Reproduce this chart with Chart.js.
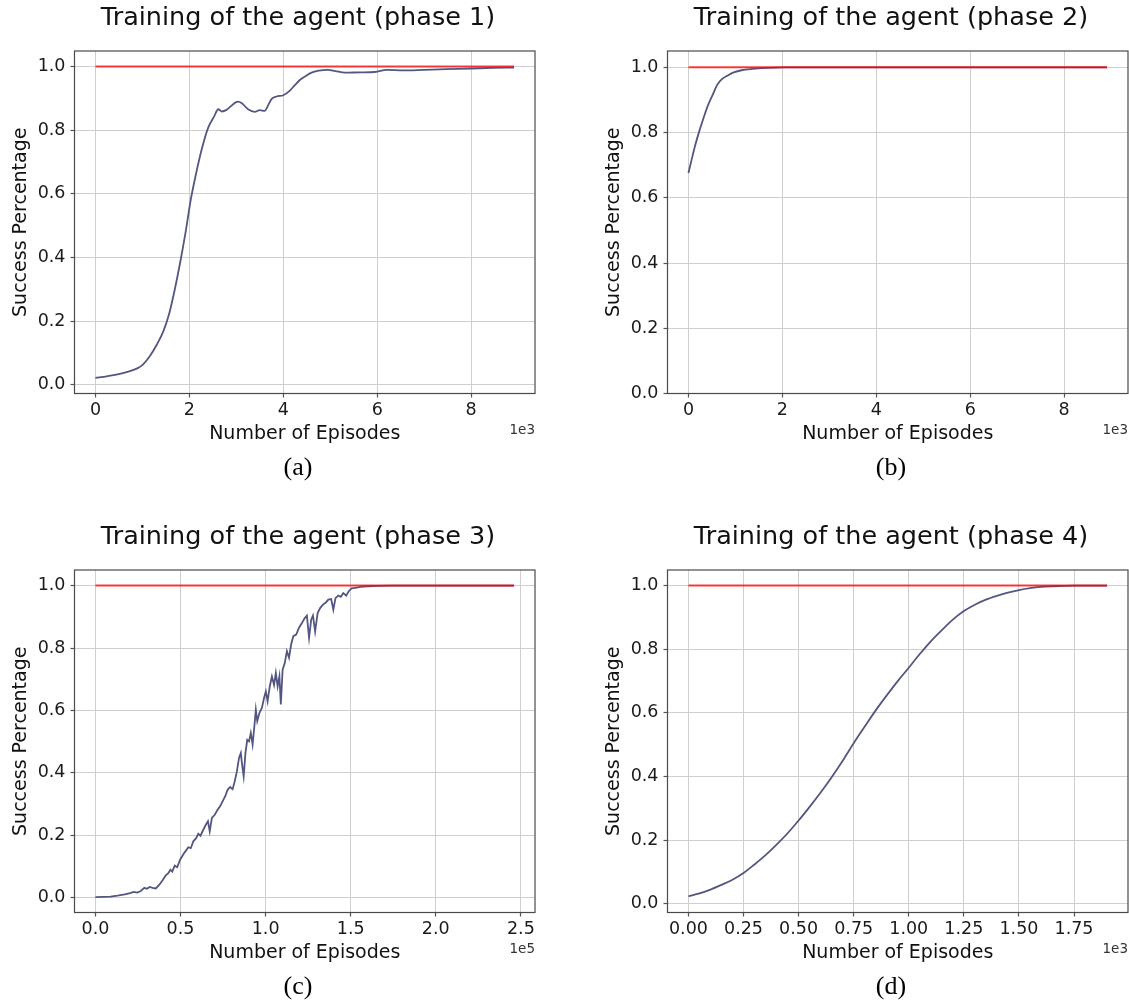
<!DOCTYPE html>
<html><head><meta charset="utf-8">
<script src="https://cdn.jsdelivr.net/npm/chart.js@4.4.1/dist/chart.umd.min.js"></script>
<style>
html,body{margin:0;padding:0;background:#fff;overflow:hidden;width:1129px;height:1005px;position:relative;}
canvas{position:absolute;}
</style></head><body>
<canvas id="c1" width="596" height="519" style="left:0px;top:0px"></canvas>
<canvas id="c2" width="596" height="519" style="left:593px;top:0px"></canvas>
<canvas id="c3" width="596" height="519" style="left:0px;top:519px"></canvas>
<canvas id="c4" width="596" height="519" style="left:593px;top:519px"></canvas>
<script>
// ---- text ----
const panelTitles = ['Training of the agent (phase 1)','Training of the agent (phase 2)','Training of the agent (phase 3)','Training of the agent (phase 4)'];
const panelCaptions = ['(a)','(b)','(c)','(d)'];
const xAxisLabel = 'Number of Episodes';
const yAxisLabel = 'Success Percentage';
const offsetLabels = ['1e3','1e3','1e5','1e3'];

// ---- data ----
const phase1Episodes = [0,243,471,700,890,1004,1156,1308,1445,1574,1688,1802,1916,2030,2144,2259,2395,2525,2616,2692,2791,2880,3030,3118,3250,3392,3500,3605,3665,3748,3856,4000,4122,4236,4352,4464,4601,4750,4950,5110,5312,5643,5950,6201,6555,7011,7468,8000,8456,8913];
const phase1Success  = [0.022,0.027,0.033,0.042,0.052,0.063,0.090,0.127,0.168,0.226,0.299,0.383,0.477,0.582,0.665,0.738,0.806,0.843,0.866,0.859,0.864,0.875,0.890,0.885,0.866,0.858,0.863,0.861,0.875,0.898,0.906,0.910,0.922,0.940,0.958,0.969,0.981,0.987,0.990,0.986,0.981,0.982,0.983,0.990,0.988,0.990,0.992,0.994,0.996,0.997];

const phase2Episodes = [0,68,144,220,311,409,523,614,713,826,978,1130,1357,1660,2039,4000,6000,8913];
const phase2Success  = [0.676,0.717,0.761,0.799,0.840,0.881,0.918,0.947,0.964,0.974,0.985,0.991,0.995,0.998,1.0,1.0,1.0,1.0];

const phase3Episodes = [0,4618,8816,13014,17212,20361,22460,24559,26658,28757,30227,31906,33585,35474,37573,39673,41352,42821,44081,45130,46600,48069,49748,51847,53317,54576,56045,57515,59194,60453,61713,63392,64861,66121,67170,68430,70109,71788,73258,74727,76406,77666,79135,80605,81864,83123,84383,85432,86062,87111,88161,89210,90260,91309,92359,93408,94248,95088,96347,97817,99076,100126,101175,102435,103694,104954,106003,107053,108102,108942,109991,111251,112510,113770,115029,116289,117968,119647,121326,123006,124265,125525,126784,127834,129093,130563,132032,133711,135390,136860,138539,139798,141058,142737,144207,145676,147355,148824,150504,152603,155752,159950,166247,174643,246000];
const phase3Success  = [0.002,0.003,0.004,0.007,0.011,0.015,0.019,0.017,0.022,0.032,0.029,0.035,0.032,0.030,0.042,0.058,0.072,0.079,0.090,0.084,0.103,0.098,0.122,0.141,0.152,0.162,0.159,0.181,0.191,0.205,0.199,0.218,0.234,0.245,0.213,0.256,0.266,0.282,0.293,0.309,0.327,0.346,0.355,0.348,0.373,0.405,0.448,0.464,0.432,0.389,0.464,0.506,0.501,0.528,0.491,0.550,0.603,0.566,0.592,0.608,0.640,0.661,0.629,0.677,0.709,0.682,0.720,0.677,0.709,0.619,0.731,0.752,0.790,0.769,0.812,0.838,0.843,0.865,0.880,0.896,0.904,0.833,0.891,0.904,0.853,0.912,0.928,0.939,0.946,0.955,0.957,0.923,0.960,0.968,0.964,0.976,0.968,0.982,0.991,0.993,0.996,0.998,0.999,1.0,1.0];

const phase4Episodes = [0,50,100,150,200,250,300,350,400,450,500,550,600,650,700,750,800,850,900,950,1000,1050,1100,1150,1200,1250,1300,1350,1400,1450,1500,1550,1600,1650,1700,1750,1800,1900];
const phase4Success  = [0.024,0.033,0.045,0.060,0.076,0.097,0.124,0.153,0.186,0.222,0.262,0.305,0.350,0.398,0.450,0.505,0.557,0.608,0.655,0.700,0.742,0.785,0.825,0.860,0.893,0.920,0.940,0.956,0.968,0.978,0.986,0.992,0.996,0.998,0.999,1.0,1.0,1.0];

const targetSuccess = 1.0;

// ---- ticks ----
const xTicksPhase12 = [0,2000,4000,6000,8000];
const xTickLabelsPhase12 = ['0','2','4','6','8'];
const xTicksPhase3 = [0,50000,100000,150000,200000,250000];
const xTickLabelsPhase3 = ['0.0','0.5','1.0','1.5','2.0','2.5'];
const xTicksPhase4 = [0,250,500,750,1000,1250,1500,1750];
const xTickLabelsPhase4 = ['0.00','0.25','0.50','0.75','1.00','1.25','1.50','1.75'];
const yTicks = [0,0.2,0.4,0.6,0.8,1.0];
const yTickLabels = ['0.0','0.2','0.4','0.6','0.8','1.0'];

// axis limits
const xLimits = [[-446,9359],[-446,9359],[-12300,258300],[-95,1995]];
const yLimits = [[-0.027,1.049],[0,1.05],[-0.047,1.05],[-0.027,1.049]];

// ---- plugins ----
const framePlugin = {
  id: 'frame',
  afterDatasetsDraw(chart) {
    const {ctx, chartArea: a} = chart;
    ctx.save();
    ctx.strokeStyle = '#4a4a4a';
    ctx.lineWidth = 1.2;
    ctx.strokeRect(a.left, a.top, a.right - a.left, a.bottom - a.top);
    ctx.restore();
  }
};
const offsetTextPlugin = {
  id: 'offsetText',
  afterDraw(chart, args, opts) {
    const {ctx, chartArea: a} = chart;
    ctx.save();
    ctx.font = '13.5px "DejaVu Sans"';
    ctx.fillStyle = '#333';
    ctx.textAlign = 'right';
    ctx.textBaseline = 'middle';
    ctx.fillText(opts.text, a.right, a.bottom + 36.5);
    ctx.restore();
  }
};

const FONT = '"DejaVu Sans", "Bitstream Vera Sans", sans-serif';

function makeChart(id, i, xs, ys, xTickVals, xTickLabels, smooth) {
  const series = xs.map((x, k) => ({x: x, y: ys[k]}));
  const target = [{x: xs[0], y: targetSuccess}, {x: xs[xs.length - 1], y: targetSuccess}];
  return new Chart(document.getElementById(id), {
    type: 'line',
    data: {
      datasets: [
        {label: 'success', data: series, borderColor: 'rgb(84,86,130)', borderWidth: 1.8,
         pointRadius: 0, fill: false, tension: 0, cubicInterpolationMode: smooth ? 'monotone' : 'default',
         order: 1, xAxisID: 'x', yAxisID: 'y'},
        {label: 'target', data: target, borderColor: 'rgba(255,0,0,0.75)', borderWidth: 2,
         pointRadius: 0, fill: false, order: 0, xAxisID: 'x', yAxisID: 'y'}
      ]
    },
    options: {
      responsive: false,
      animation: false,
      layout: {padding: 0},
      plugins: {
        legend: {display: false},
        tooltip: {enabled: false},
        title: {display: true, text: panelTitles[i], color: '#111',
                font: {family: FONT, size: 25.5, weight: 'normal', lineHeight: 1.2},
                padding: {top: 2.7, bottom: 17.7}},
        subtitle: {display: true, position: 'bottom', text: panelCaptions[i], color: '#000',
                font: {family: '"Liberation Serif", "Times New Roman", serif', size: 26, weight: 'normal', lineHeight: 1.2},
                padding: {top: 3.9, bottom: 35.4}},
        offsetText: {text: offsetLabels[i]}
      },
      scales: {
        x: {
          type: 'linear', position: 'bottom',
          min: xLimits[i][0], max: xLimits[i][1],
          afterBuildTicks: s => { s.ticks = xTickVals.map(v => ({value: v})); },
          afterFit: s => { s.height = 55; },
          grid: {display: true, color: '#cfcfcf', lineWidth: 1, drawTicks: true, tickLength: 4, tickColor: '#555', tickWidth: 1.2},
          border: {display: false},
          ticks: {autoSkip: false, maxRotation: 0, padding: 2.7, color: '#1a1a1a',
                  font: {family: FONT, size: 17.5},
                  callback: (v, idx) => xTickLabels[idx]},
          title: {display: true, text: xAxisLabel, color: '#111',
                  font: {family: FONT, size: 19, lineHeight: 1.2},
                  padding: {top: 0, bottom: 3.1}}
        },
        y: {
          type: 'linear', position: 'left',
          min: yLimits[i][0], max: yLimits[i][1],
          afterBuildTicks: s => { s.ticks = yTicks.map(v => ({value: v})); },
          afterFit: s => { s.width = 74.5; },
          grid: {display: true, color: '#cfcfcf', lineWidth: 1, drawTicks: true, tickLength: 4, tickColor: '#555', tickWidth: 1.2},
          border: {display: false},
          ticks: {autoSkip: false, padding: 5, color: '#1a1a1a',
                  font: {family: FONT, size: 17.5},
                  callback: (v, idx) => yTickLabels[idx]},
          title: {display: true, text: yAxisLabel, color: '#111',
                  font: {family: FONT, size: 19, lineHeight: 1.2},
                  padding: {top: 9.3, bottom: 0}}
        },
        rightSpace: {
          type: 'linear', position: 'right', display: true,
          afterFit: s => { s.width = 61; },
          grid: {display: false}, border: {display: false},
          ticks: {display: false}
        }
      }
    },
    plugins: [framePlugin, offsetTextPlugin]
  });
}

makeChart('c1', 0, phase1Episodes, phase1Success, xTicksPhase12, xTickLabelsPhase12, true);
makeChart('c2', 1, phase2Episodes, phase2Success, xTicksPhase12, xTickLabelsPhase12, true);
makeChart('c3', 2, phase3Episodes, phase3Success, xTicksPhase3, xTickLabelsPhase3, false);
makeChart('c4', 3, phase4Episodes, phase4Success, xTicksPhase4, xTickLabelsPhase4, true);
</script>
</body></html>
